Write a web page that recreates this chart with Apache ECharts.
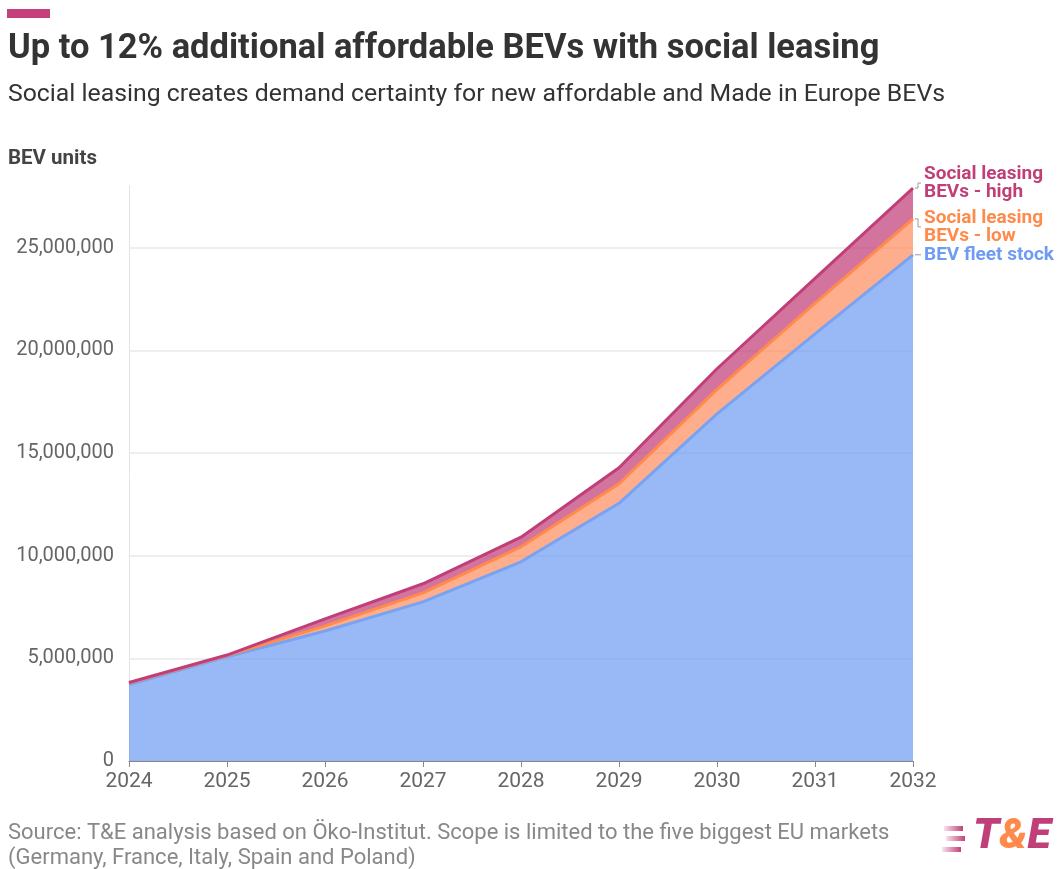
<!DOCTYPE html>
<html>
<head>
<meta charset="utf-8">
<script src="https://cdn.jsdelivr.net/npm/echarts@6/dist/echarts.min.js"></script>
<style>
  html, body { margin: 0; padding: 0; background: #fff; }
  #chart { width: 1058px; height: 869px; }
</style>
</head>
<body>
<div id="chart"></div>
<script>
// Years on the x axis
const years = ['2024', '2025', '2026', '2027', '2028', '2029', '2030', '2031', '2032'];

// BEV fleet stock (units)
const fleetStock = [3720000, 5080000, 6330000, 7750000, 9700000, 12550000, 16900000, 20800000, 24650000];
// Fleet stock plus social leasing BEVs, low scenario (units)
const leasingLowTotal = [3790000, 5130000, 6580000, 8190000, 10430000, 13500000, 18100000, 22300000, 26400000];
// Fleet stock plus social leasing BEVs, high scenario (units)
const leasingHighTotal = [3820000, 5160000, 6920000, 8630000, 10900000, 14280000, 19100000, 23500000, 27900000];

// Y axis ticks
const yTicks = [0, 5000000, 10000000, 15000000, 20000000, 25000000];

const seriesLabels = ['BEV fleet stock', 'Social leasing\nBEVs - low', 'Social leasing\nBEVs - high'];
const seriesNames = ['BEV fleet stock', 'Social leasing BEVs - low', 'Social leasing BEVs - high'];
const lineColors = ['#78a2f2', '#ff8a4c', '#c13f78'];
const areaColors = ['rgba(110,155,242,0.70)', 'rgba(253,130,78,0.65)', 'rgba(192,57,118,0.70)'];
const labelColors = ['#6f9cf2', '#ff8a4c', '#c13f78'];
const labelShift = [0, 8, -5];

// Stacked layers: base stock, then the increments for the two scenarios
const lowExtra = leasingLowTotal.map((v, i) => v - fleetStock[i]);
const highExtra = leasingHighTotal.map((v, i) => v - leasingLowTotal[i]);
const layers = [fleetStock, lowExtra, highExtra];

const FONT = 'Roboto, "Noto Sans", sans-serif';
const chart = echarts.init(document.getElementById('chart'), null, { renderer: 'canvas' });

const fmt = v => v.toLocaleString('en-US');

// Filled bands (no outline), stacked
const areaSeries = layers.map((data, k) => ({
  name: seriesNames[k],
  type: 'line',
  stack: 'bands',
  data: data,
  symbol: 'none',
  z: 2,
  lineStyle: { width: 0, opacity: 0 },
  areaStyle: { color: areaColors[k], opacity: 1 },
  emphasis: { disabled: true },
  silent: true
}));

// Outlines drawn above every band, high scenario on top
const lineSeries = layers.map((data, k) => ({
  name: seriesNames[k] + ' line',
  type: 'line',
  stack: 'outlines',
  data: data,
  symbol: 'none',
  z: 5 + k,
  lineStyle: { color: lineColors[k], width: 3 },
  itemStyle: { color: lineColors[k] },
  emphasis: { disabled: true },
  endLabel: {
    show: true,
    formatter: () => seriesLabels[k],
    color: labelColors[k],
    fontFamily: FONT,
    fontWeight: 'bold',
    fontSize: 19,
    lineHeight: 18,
    distance: 11,
    align: 'left',
    verticalAlign: 'middle',
    offset: [0, labelShift[k]]
  }
}));

const option = {
  animation: false,
  backgroundColor: '#ffffff',
  title: [
    {
      text: 'Up to 12% additional affordable BEVs with social leasing',
      left: 3, top: 27,
      textStyle: { fontFamily: FONT, fontWeight: 'bold', fontSize: 34.5, color: '#333333' }
    },
    {
      text: 'Social leasing creates demand certainty for new affordable and Made in Europe BEVs',
      left: 3, top: 77,
      textStyle: { fontFamily: FONT, fontWeight: 'normal', fontSize: 24.8, color: '#333333' }
    },
    {
      text: 'BEV units',
      left: 3, top: 143,
      textStyle: { fontFamily: FONT, fontWeight: 'bold', fontSize: 20.5, color: '#444444' }
    },
    {
      text: 'Source: T&E analysis based on Öko-Institut. Scope is limited to the five biggest EU markets\n(Germany, France, Italy, Spain and Poland)',
      left: 3, top: 816,
      textStyle: { fontFamily: FONT, fontWeight: 'normal', fontSize: 22, lineHeight: 25, color: '#888888' }
    }
  ],
  grid: { left: 129, right: 145, top: 186, bottom: 108, containLabel: false },
  xAxis: {
    type: 'category',
    data: years,
    boundaryGap: false,
    axisLine: { show: true, lineStyle: { color: '#888888', width: 1 } },
    axisTick: { show: true, alignWithLabel: true, length: 6, lineStyle: { color: '#888888' } },
    axisLabel: { fontFamily: FONT, fontSize: 21, color: '#666666', margin: 10 },
    splitLine: { show: false }
  },
  yAxis: {
    type: 'value',
    min: yTicks[0],
    max: 28000000,
    interval: yTicks[1] - yTicks[0],
    axisLine: { show: true, lineStyle: { color: '#e3e3e3' } },
    axisTick: { show: false },
    axisLabel: {
      fontFamily: FONT, fontSize: 20, color: '#666666', margin: 15,
      showMaxLabel: false,
      formatter: v => (yTicks.indexOf(v) >= 0 ? fmt(v) : '')
    },
    splitLine: { show: true, showMaxLine: false, lineStyle: { color: '#e8e8e8', width: 1.5 } }
  },
  series: areaSeries.concat(lineSeries)
};

chart.setOption(option);

// Small guide lines from each series end to its label, plus header/brand shapes
function buildGraphics() {
  const last = years.length - 1;
  const tops = [fleetStock[last], leasingLowTotal[last], leasingHighTotal[last]];
  const els = [];
  tops.forEach((v, k) => {
    const p = chart.convertToPixel({ gridIndex: 0 }, [last, v]);
    const x0 = p[0] + 2, y0 = p[1], y1 = p[1] + labelShift[k];
    const pts = labelShift[k] === 0
      ? [[x0, y0], [x0 + 6, y0]]
      : [[x0, y0], [x0 + 3, y0], [x0 + 3, y1], [x0 + 6, y1]];
    els.push({
      type: 'polyline', silent: true, z: 10,
      shape: { points: pts },
      style: { stroke: '#9a9a9a', lineWidth: 1, fill: null }
    });
  });
  // accent bar above the title
  els.push({ type: 'rect', left: 7, top: 9, shape: { width: 43, height: 9 }, style: { fill: '#c4417b' }, silent: true });
  // brand mark: striped glyph + wordmark
  const stripeGrad = new echarts.graphic.LinearGradient(0, 0, 1, 0, [
    { offset: 0, color: 'rgba(196,65,123,0.15)' },
    { offset: 1, color: 'rgba(196,65,123,1)' }
  ]);
  [[944, 826], [946, 836], [942, 847]].forEach(([x, y]) => {
    els.push({ type: 'rect', silent: true, shape: { x: x, y: y, width: 19, height: 5 }, style: { fill: stripeGrad } });
  });
  els.push({
    type: 'text', silent: true, left: 973, top: 816,
    style: {
      text: '{a|T}{b|&}{a|E}',
      rich: {
        a: { fontFamily: FONT, fontWeight: 900, fontStyle: 'italic', fontSize: 43, fill: '#c13f78', color: '#c13f78' },
        b: { fontFamily: FONT, fontWeight: 900, fontStyle: 'italic', fontSize: 43, fill: '#ff8a4c', color: '#ff8a4c' }
      }
    }
  });
  chart.setOption({ graphic: els });
}
buildGraphics();
</script>
</body>
</html>
